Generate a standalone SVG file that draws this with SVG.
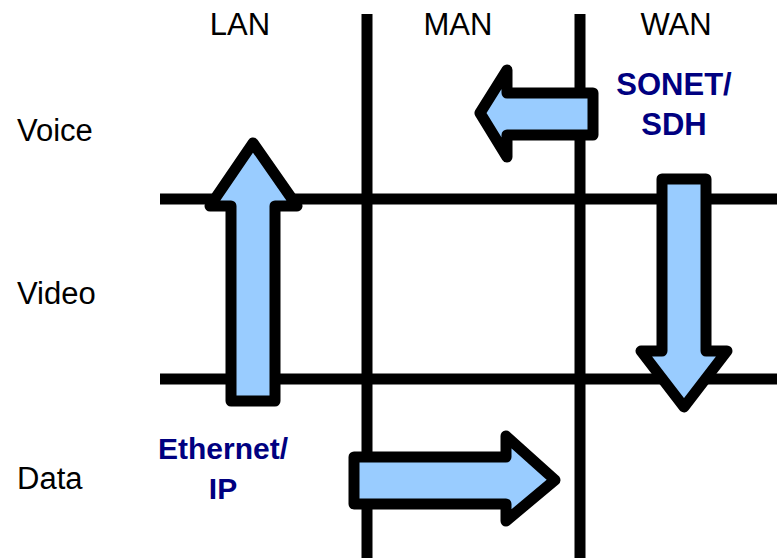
<svg xmlns="http://www.w3.org/2000/svg" width="777" height="558" viewBox="0 0 777 558">
<style>
.grid{stroke:#000;stroke-width:11;fill:none}
.arrow{fill:#99ccff;stroke:#000;stroke-width:11;stroke-linejoin:round}
.lbl{font-family:"Liberation Sans",Arial,sans-serif;font-size:31px;fill:#000}
.proto{font-family:"Liberation Sans",Arial,sans-serif;font-size:31px;font-weight:bold;fill:#000080;text-anchor:middle}
.eth{font-size:30px}
.col{text-anchor:middle}
</style>
<rect width="777" height="558" fill="#fff"/>
<g id="grid" class="grid">
<line x1="367" y1="14" x2="367" y2="558"/>
<line x1="580" y1="14" x2="580" y2="558"/>
<line x1="160" y1="199" x2="777" y2="199"/>
<line x1="160" y1="379" x2="777" y2="379"/>
</g>
<g id="headers">
<text class="lbl col" x="240" y="35">LAN</text>
<text class="lbl col" x="458" y="35">MAN</text>
<text class="lbl col" x="676" y="35">WAN</text>
<text class="lbl" x="17" y="141">Voice</text>
<text class="lbl" x="17" y="304">Video</text>
<text class="lbl" x="17" y="489">Data</text>
</g>
<g id="connectors">
<g id="arrow-voice-left"><polygon class="arrow" points="480,113 507,70 507,93 593,93 593,135 507,135 507,157"/></g>
<g id="arrow-lan-up"><polygon class="arrow" points="253,143 297,206 275,206 275,401 231,401 231,206 210,206"/></g>
<g id="arrow-wan-down"><polygon class="arrow" points="684,407 641,351 662,351 662,179 706,179 706,351 727,351"/></g>
<g id="arrow-data-right"><polygon class="arrow" points="555,480 506,436 506,457 354,457 354,504 506,504 506,521"/></g>
</g>
<g id="label-sonet">
<text class="proto" x="674" y="95">SONET/</text>
<text class="proto" x="674" y="135">SDH</text>
</g>
<g id="label-ethernet">
<text class="proto eth" x="223" y="459">Ethernet/</text>
<text class="proto eth" x="223" y="499">IP</text>
</g>
</svg>
